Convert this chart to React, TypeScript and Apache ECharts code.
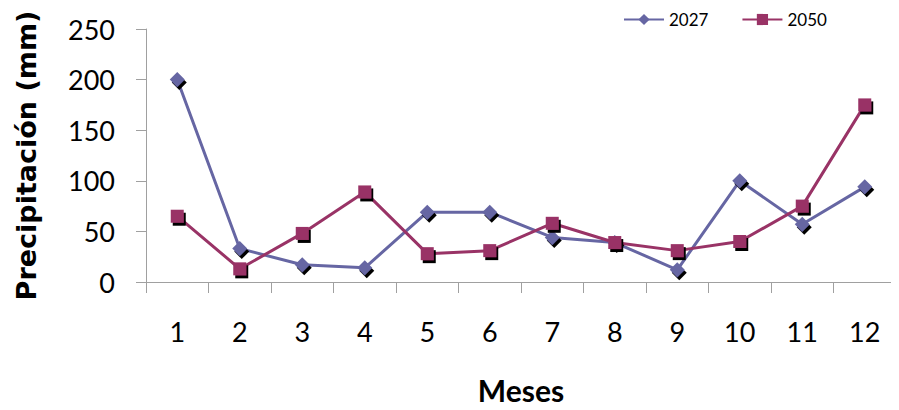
import React, { useEffect, useRef } from "react";
import * as echarts from "echarts";

const months = ["1", "2", "3", "4", "5", "6", "7", "8", "9", "10", "11", "12"];
const s2027 = [200, 33, 17, 14, 69, 69, 44, 39, 12, 100, 57, 94];
const s2050 = [65, 13, 48, 89, 28, 31, 58, 39, 31, 40, 75, 175];
const yTicks = { min: 0, max: 250, interval: 50 };

const FONT = "Lato";

export default function App() {
  const ref = useRef<HTMLDivElement>(null);
  useEffect(() => {
    if (!ref.current) return;
    const chart = echarts.init(ref.current, null, { renderer: "svg" });
    const shadow = { shadowColor: "#000", shadowOffsetX: 2, shadowOffsetY: 3, shadowBlur: 0 };
    chart.setOption({
      animation: false,
      backgroundColor: "#fff",
      textStyle: { fontFamily: FONT },
      legend: {
        top: 6,
        left: 618,
        itemWidth: 40,
        itemHeight: 14,
        itemGap: 33,
        textStyle: { fontSize: 17, color: "#000", fontFamily: FONT },
        data: ["2027", "2050"],
      },
      grid: { left: 146, right: 3, top: 29, bottom: 128, containLabel: false },
      xAxis: {
        type: "category",
        data: months,
        boundaryGap: true,
        name: "Meses",
        nameLocation: "middle",
        nameGap: 93,
        nameTextStyle: { fontSize: 30, fontWeight: "bold", color: "#000", fontFamily: FONT },
        axisLine: { lineStyle: { color: "#a0a0a0", width: 1 } },
        axisTick: { show: true, length: 11, alignWithLabel: false, lineStyle: { color: "#a0a0a0" } },
        axisLabel: { fontSize: 27, color: "#000", margin: 36, fontFamily: FONT },
      },
      yAxis: {
        type: "value",
        min: yTicks.min,
        max: yTicks.max,
        interval: yTicks.interval,
        name: "Precipitación (mm)",
        nameLocation: "middle",
        nameGap: 106,
        nameTextStyle: { fontSize: 27, fontWeight: "bold", color: "#000", fontFamily: "DejaVu Sans" },
        axisLine: { show: true, lineStyle: { color: "#a0a0a0", width: 1 } },
        axisTick: { show: true, length: 10, lineStyle: { color: "#a0a0a0" } },
        splitLine: { show: false },
        axisLabel: { fontSize: 27, color: "#000", margin: 31, fontFamily: FONT },
      },
      series: [
        {
          name: "2027",
          type: "line",
          data: s2027,
          symbol: "diamond",
          symbolSize: 15,
          color: "#6666a3",
          lineStyle: { width: 3, color: "#6666a3" },
          itemStyle: { color: "#6666a3", ...shadow },
        },
        {
          name: "2050",
          type: "line",
          data: s2050,
          symbol: "rect",
          symbolSize: 13,
          color: "#993366",
          lineStyle: { width: 3, color: "#993366" },
          itemStyle: { color: "#993366", ...shadow },
        },
      ],
    });
    return () => chart.dispose();
  }, []);
  return <div ref={ref} style={{ width: 899, height: 410, margin: -8 }} />;
}
